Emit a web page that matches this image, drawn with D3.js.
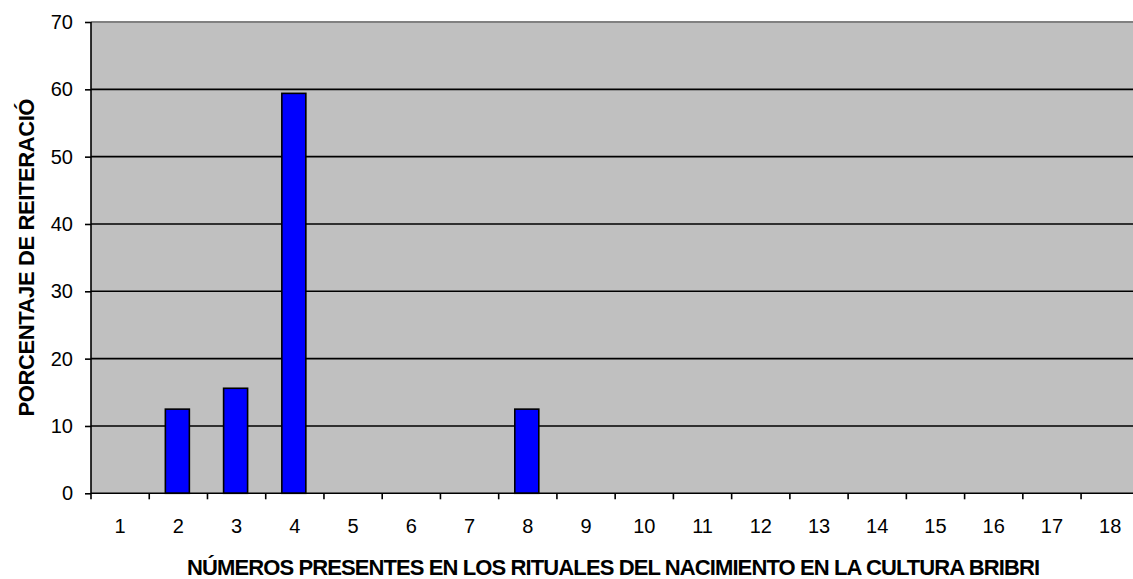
<!DOCTYPE html>
<html>
<head>
<meta charset="utf-8">
<script src="https://cdn.jsdelivr.net/npm/d3@7"></script>
<style>
  html, body { margin: 0; padding: 0; background: #fff; overflow: hidden; }
  svg { display: block; }
  text { font-family: "Liberation Sans", Arial, sans-serif; fill: #000; }
</style>
</head>
<body>
<svg id="chart" width="1133" height="579"></svg>
<script>
// Numbers that appear in the Bribri birth rituals (1–18)
const categories = d3.range(1, 19).map(String);
// Percentage of repetition for each number
const values = [0, 12.5, 15.6, 59.4, 0, 0, 0, 12.5, 0, 0, 0, 0, 0, 0, 0, 0, 0, 0];
const yTicks = [0, 10, 20, 30, 40, 50, 60, 70];

const xTitle = "NÚMEROS PRESENTES EN LOS RITUALES DEL NACIMIENTO EN LA CULTURA BRIBRI";
const yTitle = "PORCENTAJE DE REITERACIÓ";

const svg = d3.select("#chart");
const plotLeft = 91, plotTop = 22, plotBottom = 493.3;
const band = 58.24;
const plotRight = plotLeft + band * categories.length;

const x = d3.scaleBand().domain(categories).range([plotLeft, plotRight]).paddingInner(0).paddingOuter(0);
const y = d3.scaleLinear().domain([0, 70]).range([plotBottom, plotTop]);

// plot background
svg.append("rect")
  .attr("x", plotLeft).attr("y", plotTop)
  .attr("width", plotRight - plotLeft).attr("height", plotBottom - plotTop)
  .attr("fill", "#c0c0c0");

// top border of the plot area
svg.append("line")
  .attr("x1", plotLeft).attr("x2", plotRight)
  .attr("y1", plotTop).attr("y2", plotTop)
  .attr("stroke", "#808080").attr("stroke-width", 2);

// horizontal gridlines
svg.append("g")
  .selectAll("line")
  .data(yTicks.filter(d => d > 0 && d < 70))
  .join("line")
  .attr("x1", plotLeft).attr("x2", plotRight)
  .attr("y1", d => y(d)).attr("y2", d => y(d))
  .attr("stroke", "#000").attr("stroke-width", 1.6);

// bars
const barW = 24;
svg.append("g")
  .selectAll("rect")
  .data(values.map((v, i) => ({ c: categories[i], v })).filter(d => d.v > 0))
  .join("rect")
  .attr("x", d => x(d.c) + x.bandwidth() / 2 - barW / 2 - 1)
  .attr("y", d => y(d.v))
  .attr("width", barW)
  .attr("height", d => plotBottom - y(d.v))
  .attr("fill", "#0000ff")
  .attr("stroke", "#000")
  .attr("stroke-width", 1.6);

// y axis
const yAxis = d3.axisLeft(y).tickValues(yTicks).tickSize(6).tickPadding(12);
const gy = svg.append("g").attr("transform", `translate(${plotLeft},0)`).call(yAxis);
gy.select(".domain").attr("stroke", "#000").attr("stroke-width", 1.6).attr("d", `M0,${plotTop}V${plotBottom}`);
gy.selectAll(".tick line").attr("stroke", "#000").attr("stroke-width", 1.6);
gy.selectAll(".tick text").style("font-size", "20px").style("font-family", "'Liberation Sans', Arial, sans-serif").attr("fill", "#000");

// x axis: ticks at category boundaries, labels centred in each band
const boundaries = d3.range(0, categories.length + 1).map(i => plotLeft + i * x.bandwidth());
const gx = svg.append("g");
gx.append("line")
  .attr("x1", plotLeft).attr("x2", plotRight)
  .attr("y1", plotBottom).attr("y2", plotBottom)
  .attr("stroke", "#000").attr("stroke-width", 1.6);
gx.selectAll(".bt")
  .data(boundaries)
  .join("line")
  .attr("class", "bt")
  .attr("x1", d => d).attr("x2", d => d)
  .attr("y1", plotBottom).attr("y2", plotBottom + 6)
  .attr("stroke", "#000").attr("stroke-width", 1.6);
gx.selectAll(".lbl")
  .data(categories)
  .join("text")
  .attr("class", "lbl")
  .attr("x", d => x(d) + x.bandwidth() / 2)
  .attr("y", 533)
  .attr("text-anchor", "middle")
  .style("font-size", "20px")
  .text(d => d);

// axis titles
svg.append("text")
  .attr("x", 187).attr("y", 575)
  .attr("text-anchor", "start")
  .attr("textLength", 853)
  .attr("lengthAdjust", "spacing")
  .style("font-size", "22px").style("font-weight", "bold")
  .text(xTitle);

svg.append("text")
  .attr("transform", "translate(34,416.5) rotate(-90)")
  .attr("text-anchor", "start")
  .attr("textLength", 318)
  .attr("lengthAdjust", "spacing")
  .style("font-size", "22px").style("font-weight", "bold")
  .text(yTitle);
</script>
</body>
</html>
